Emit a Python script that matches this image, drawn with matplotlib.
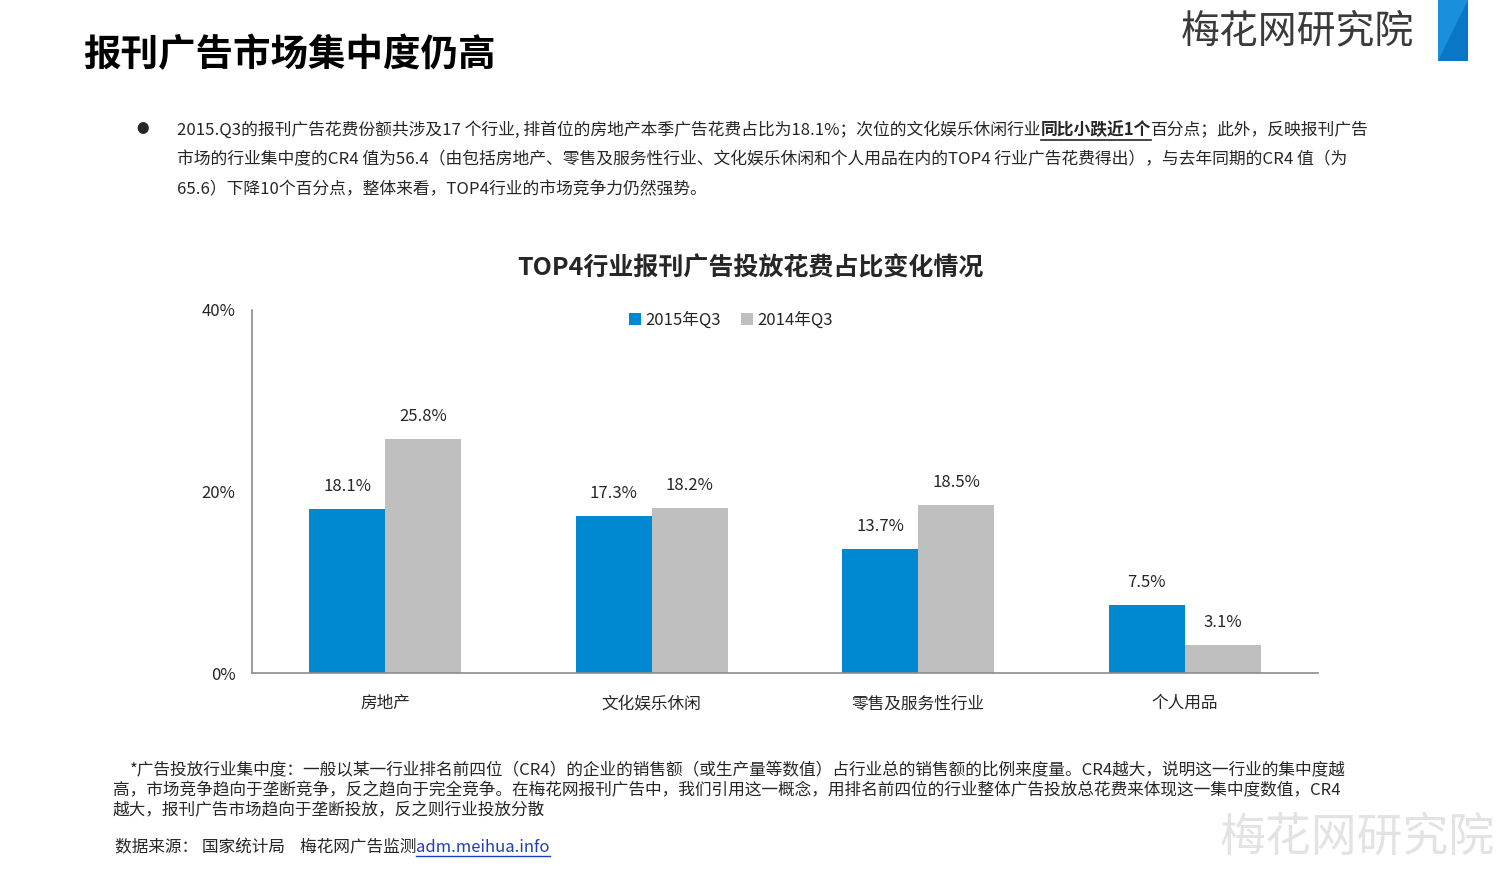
import matplotlib
matplotlib.use("Agg")
import matplotlib.pyplot as plt
from matplotlib.patches import Rectangle, Polygon
import numpy as np

plt.rcParams['font.family'] = ['Noto Sans CJK SC', 'DejaVu Sans']

categories = ['房地产', '文化娱乐休闲', '零售及服务性行业', '个人用品']
series_names = ['2015年Q3', '2014年Q3']
values_2015 = [18.1, 17.3, 13.7, 7.5]
values_2014 = [25.8, 18.2, 18.5, 3.1]
yticks = [0, 20, 40]
ytick_labels = ['0%', '20%', '40%']

page_title = '报刊广告市场集中度仍高'
chart_title = 'TOP4行业报刊广告投放花费占比变化情况'
brand = '梅花网研究院'

bullet_lines = [
    [('2015.Q3的报刊广告花费份额共涉及17 个行业, 排首位的房地产本季广告花费占比为18.1%；次位的文化娱乐休闲行业', False),
     ('同比小跌近1个', True),
     ('百分点；此外，反映报刊广告', False)],
    [('市场的行业集中度的CR4 值为56.4（由包括房地产、零售及服务性行业、文化娱乐休闲和个人用品在内的TOP4 行业广告花费得出），与去年同期的CR4 值（为', False)],
    [('65.6）下降10个百分点，整体来看，TOP4行业的市场竞争力仍然强势。', False)],
]
foot_lines = [
    '*广告投放行业集中度：一般以某一行业排名前四位（CR4）的企业的销售额（或生产量等数值）占行业总的销售额的比例来度量。CR4越大，说明这一行业的集中度越',
    '高，市场竞争趋向于垄断竞争，反之趋向于完全竞争。在梅花网报刊广告中，我们引用这一概念，用排名前四位的行业整体广告投放总花费来体现这一集中度数值，CR4',
    '越大，报刊广告市场趋向于垄断投放，反之则行业投放分散',
]
source_text = '数据来源： 国家统计局    梅花网广告监测'
source_link = 'adm.meihua.info'

W, H = 1500, 886
fig = plt.figure(figsize=(W / 100, H / 100), dpi=100)
fig.patch.set_facecolor('white')
renderer = fig.canvas.get_renderer()


def P(x, y):
    return x / W, 1 - y / H


def seq_text(x, y, segments, size, color='#262626'):
    cx = x
    for s, bold in segments:
        t = fig.text(*P(cx, y), s, fontsize=size, color=color, va='center', ha='left',
                     fontweight='bold' if bold else 'normal')
        bb = t.get_window_extent(renderer)
        if bold:
            ly = bb.y0 - 1
            fig.add_artist(plt.Line2D([bb.x0 / W, bb.x1 / W], [ly / H, ly / H], color=color, lw=1.2))
        cx += bb.width
    return cx


# header
fig.text(*P(83, 55), page_title, fontsize=27, fontweight='bold', color='black', va='center', ha='left')
fig.text(*P(1414, 31), brand, fontsize=28, color='#3a3a3a', va='center', ha='right', fontweight='light')
x0, x1, y0, y1 = 1438 / W, 1468 / W, 1 - 61 / H, 1.0
fig.add_artist(Rectangle((x0, y0), x1 - x0, y1 - y0, transform=fig.transFigure, color='#1a8fdc', lw=0))
fig.add_artist(Polygon([(x1, y1), (x1, y0), (x0, y0)], closed=True, transform=fig.transFigure,
                       color='#0a76c6', lw=0))

# bullet
fig.text(*P(143, 130), '●', fontsize=9, color='#262626', va='center', ha='center')
for i, segs in enumerate(bullet_lines):
    seq_text(177, 130 + 30 * i, segs, 12.1)

# chart
ax = fig.add_axes([252 / W, 1 - 673 / H, (1318 - 252) / W, (673 - 310) / H])
x = np.arange(len(categories))
bw = 0.285
b1 = ax.bar(x - bw / 2, values_2015, bw, color='#0088d0', label=series_names[0])
b2 = ax.bar(x + bw / 2, values_2014, bw, color='#bfbfbf', label=series_names[1])
for bars, vals in ((b1, values_2015), (b2, values_2014)):
    for r, v in zip(bars, vals):
        ax.annotate(f'{v:.1f}%', (r.get_x() + r.get_width() / 2, v), xytext=(0, 16),
                    textcoords='offset points', ha='center', va='center', fontsize=12, color='#262626')
ax.set_xlim(-0.5, len(categories) - 0.5)
ax.set_ylim(0, 40)
ax.set_yticks(yticks)
ax.set_yticklabels(ytick_labels)
ax.set_xticks(x)
ax.set_xticklabels(categories)
ax.tick_params(axis='both', length=0, labelsize=12, colors='#262626')
ax.tick_params(axis='y', pad=12)
ax.tick_params(axis='x', pad=16)
for s in ('top', 'right'):
    ax.spines[s].set_visible(False)
for s in ('left', 'bottom'):
    ax.spines[s].set_color('#8c8c8c')
    ax.spines[s].set_linewidth(1.2)
leg = ax.legend(loc='upper center', bbox_to_anchor=(479 / 1066, 1.037), ncol=2, frameon=False,
                fontsize=12, handlelength=0.7, handleheight=0.7, handletextpad=0.3, columnspacing=1.2)
for t in leg.get_texts():
    t.set_color('#262626')

fig.text(*P(750, 268), chart_title, fontsize=18, fontweight='bold', color='#262626', va='center', ha='center')

# footnote
fs = 12
fig.text(*P(130, 771), foot_lines[0], fontsize=fs, color='#262626', va='center', ha='left')
fig.text(*P(113, 791), foot_lines[1], fontsize=fs, color='#262626', va='center', ha='left')
fig.text(*P(113, 811), foot_lines[2], fontsize=fs, color='#262626', va='center', ha='left')

t = fig.text(*P(115, 848), source_text, fontsize=fs, color='#262626', va='center', ha='left')
bb = t.get_window_extent(renderer)
t2 = fig.text(bb.x1 / W, 1 - 848 / H, source_link, fontsize=fs, color='#1f3fbf', va='center', ha='left')
bb2 = t2.get_window_extent(renderer)
fig.add_artist(plt.Line2D([bb2.x0 / W, bb2.x1 / W], [(bb2.y0 + 1) / H] * 2, color='#1f3fbf', lw=1))

fig.text(*P(1495, 838), brand, fontsize=33, color='#e3e3e3', va='center', ha='right')

fig.savefig('out.png', dpi=100, facecolor='white')
